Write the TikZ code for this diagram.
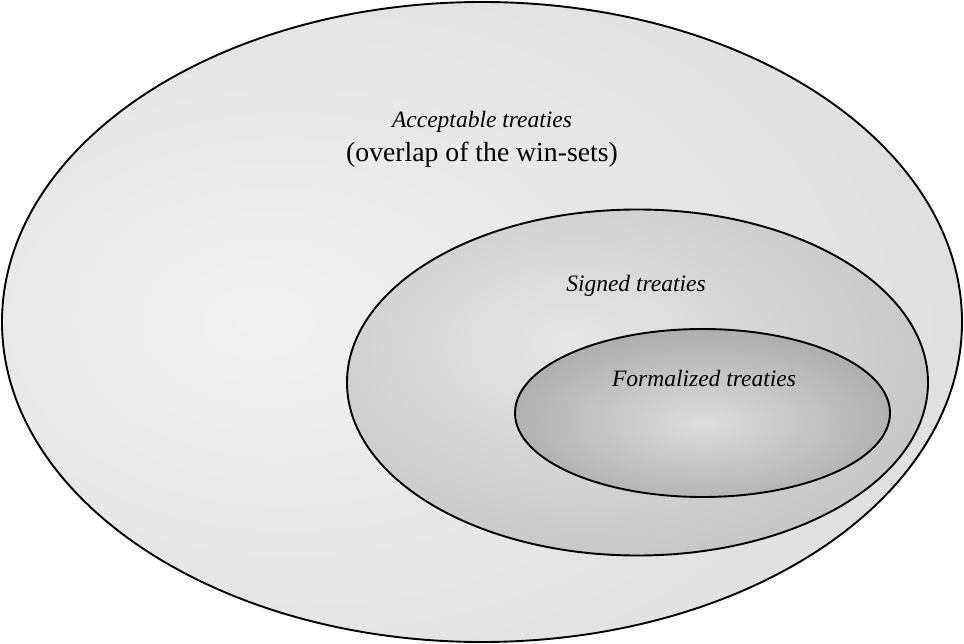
\documentclass[tikz,border=0pt]{standalone}
\usepackage{fontspec}
\setmainfont{Liberation Serif}

\definecolor{accCore}{HTML}{F1F1F1}
\definecolor{accRim}{HTML}{D7D7D7}
\definecolor{sigCore}{HTML}{E6E6E6}
\definecolor{sigRim}{HTML}{BDBDBD}
\definecolor{forCore}{HTML}{DDDDDD}
\definecolor{forRim}{HTML}{939393}

% Radial shadings: light core, darker rim (the shape's rim sits at 50bp)
\pgfdeclareradialshading{acceptshade}{\pgfpoint{-12bp}{0bp}}{%
  color(0bp)=(accCore); color(50bp)=(accRim); color(100bp)=(accRim)}
\pgfdeclareradialshading{signshade}{\pgfpoint{-6bp}{6bp}}{%
  color(0bp)=(sigCore); color(40bp)=(sigRim); color(100bp)=(sigRim)}
\pgfdeclareradialshading{formalshade}{\pgfpoint{0bp}{-3bp}}{%
  color(0bp)=(forCore); color(42bp)=(forRim); color(100bp)=(forRim)}

\tikzset{
  setline/.style={draw=black, line width=1.9pt},
  setlabel/.style={font=\fontsize{23.5}{28}\selectfont\itshape, inner sep=0pt},
  notelabel/.style={font=\fontsize{27.7}{32}\selectfont, inner sep=0pt},
}

\begin{document}
\begin{tikzpicture}[x=1pt, y=-1pt]
  \useasboundingbox (0,0) rectangle (964,644);

  % nested sets
  \draw[setline, shading=acceptshade] (482,322) ellipse [x radius=480, y radius=320];
  \draw[setline, shading=signshade] (637.5,382.5) ellipse [x radius=290.5, y radius=173];
  \draw[setline, shading=formalshade] (702.5,413) ellipse [x radius=187.5, y radius=84];

  % labels
  \node[setlabel, anchor=base] (accept) at (482,128) {Acceptable treaties};
  \node[notelabel, anchor=base] (overlap) at (482,162) {(overlap of the win-sets)};
  \node[setlabel, anchor=base] (signed) at (636,292) {Signed treaties};
  \node[setlabel, anchor=base] (formal) at (704,386) {Formalized treaties};
\end{tikzpicture}
\end{document}
